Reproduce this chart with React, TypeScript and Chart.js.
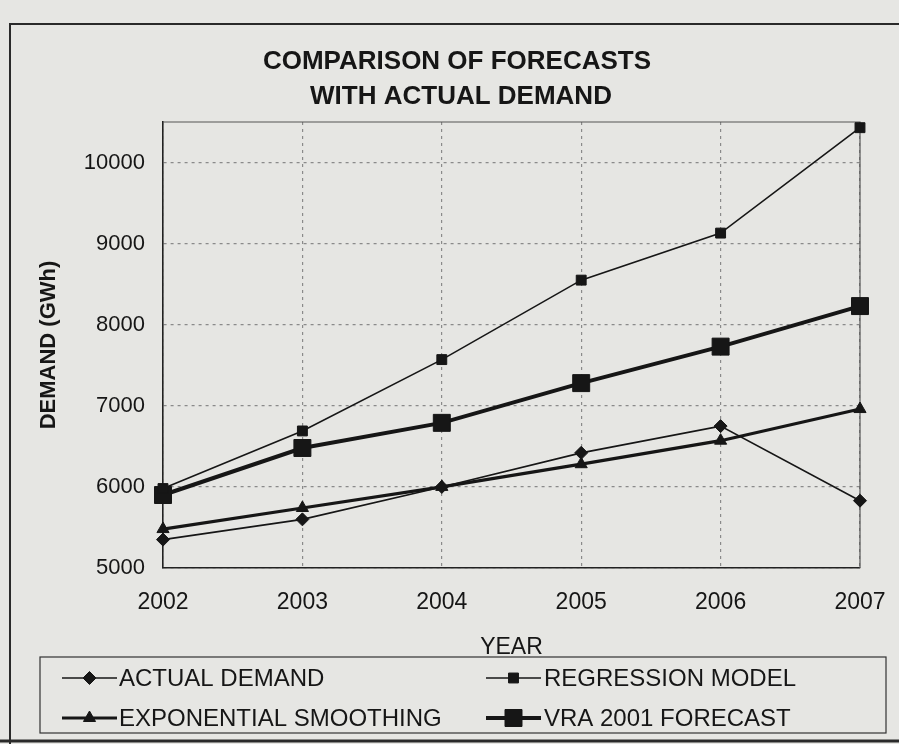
import { useEffect, useRef } from "react";
import { Chart, registerables } from "chart.js";
import { drawPoint } from "chart.js/helpers";

Chart.register(...registerables);

const years = ["2002", "2003", "2004", "2005", "2006", "2007"];
const actualDemand = [5350, 5600, 6000, 6420, 6750, 5830];
const regressionModel = [5980, 6690, 7570, 8550, 9130, 10430];
const exponentialSmoothing = [5480, 5740, 6000, 6280, 6570, 6960];
const vraForecast = [5900, 6480, 6790, 7280, 7730, 8230];
const seriesNames = [
  "ACTUAL DEMAND",
  "REGRESSION MODEL",
  "EXPONENTIAL SMOOTHING",
  "VRA 2001 FORECAST",
];
const titleLines = ["COMPARISON OF FORECASTS", "WITH ACTUAL DEMAND"];
const yTicks = [5000, 6000, 7000, 8000, 9000, 10000];
const yAxisTitle = "DEMAND (GWh)";
const xAxisTitle = "YEAR";

const FONT = "'Liberation Sans', Arial, Helvetica, sans-serif";
const INK = "#161616";
const PAPER = "#e6e6e3";
const GRID = "#8a8a8a";

// Page background, outer frame, plot frame, title and boxed legend.
const decorations = {
  id: "decorations",
  beforeDraw(chart: any) {
    const { ctx, width, height } = chart;
    ctx.save();
    ctx.fillStyle = PAPER;
    ctx.fillRect(0, 0, width, height);
    ctx.strokeStyle = "#2a2a2a";
    ctx.lineWidth = 2;
    ctx.beginPath();
    ctx.moveTo(10, height);
    ctx.lineTo(10, 24);
    ctx.lineTo(width, 24);
    ctx.stroke();
    ctx.lineWidth = 3;
    ctx.beginPath();
    ctx.moveTo(0, 741);
    ctx.lineTo(width, 741);
    ctx.stroke();
    ctx.restore();
  },
  beforeDatasetsDraw(chart: any) {
    const { ctx, chartArea } = chart;
    ctx.save();
    ctx.strokeStyle = "#555";
    ctx.lineWidth = 1.2;
    ctx.beginPath();
    ctx.moveTo(chartArea.left, chartArea.top);
    ctx.lineTo(chartArea.right, chartArea.top);
    ctx.lineTo(chartArea.right, chartArea.bottom);
    ctx.stroke();
    ctx.restore();
  },
  afterDraw(chart: any) {
    const { ctx } = chart;
    ctx.save();
    // title
    ctx.fillStyle = INK;
    ctx.textAlign = "center";
    ctx.textBaseline = "middle";
    ctx.font = `bold 26px ${FONT}`;
    ctx.fillText(titleLines[0], 457, 62);
    ctx.fillText(titleLines[1], 461, 97);

    // legend box
    ctx.strokeStyle = "#333";
    ctx.lineWidth = 1.2;
    ctx.strokeRect(40, 657, 846, 76);

    const colLine = [62, 486];
    const colText = [119, 544];
    const rowY = [678, 718];
    ctx.font = `24px ${FONT}`;
    ctx.textAlign = "left";
    chart.data.datasets.forEach((ds: any, i: number) => {
      const col = i % 2;
      const row = Math.floor(i / 2);
      const x0 = colLine[col];
      const x1 = x0 + 55;
      const y = rowY[row];
      ctx.strokeStyle = ds.borderColor;
      ctx.lineWidth = ds.borderWidth;
      ctx.beginPath();
      ctx.moveTo(x0, y);
      ctx.lineTo(x1, y);
      ctx.stroke();
      ctx.fillStyle = ds.pointBackgroundColor;
      ctx.strokeStyle = ds.pointBorderColor;
      ctx.lineWidth = 1;
      drawPoint(
        ctx,
        { pointStyle: ds.pointStyle, radius: ds.pointRadius, rotation: 0, borderWidth: 1 },
        (x0 + x1) / 2,
        y
      );
      ctx.fillStyle = INK;
      ctx.fillText(ds.label, colText[col], y + 1);
    });
    ctx.restore();
  },
};

function makeSeries(label: string, data: number[], width: number, style: string, radius: number) {
  return {
    label,
    data,
    borderColor: INK,
    borderWidth: width,
    pointStyle: style,
    pointRadius: radius,
    pointBackgroundColor: INK,
    pointBorderColor: INK,
    pointBorderWidth: 1,
    tension: 0,
    fill: false,
  };
}

export default function App() {
  const canvasRef = useRef<HTMLCanvasElement | null>(null);

  useEffect(() => {
    const canvas = canvasRef.current;
    if (!canvas) return;
    const chart = new Chart(canvas, {
      type: "line",
      data: {
        labels: years,
        datasets: [
          makeSeries(seriesNames[0], actualDemand, 1.6, "rectRot", 6.5),
          makeSeries(seriesNames[1], regressionModel, 1.6, "rect", 7),
          makeSeries(seriesNames[2], exponentialSmoothing, 3.2, "triangle", 7),
          makeSeries(seriesNames[3], vraForecast, 4, "rect", 12),
        ] as any,
      },
      options: {
        animation: false,
        responsive: false,
        devicePixelRatio: 1,
        layout: { padding: { left: 8, top: 122, right: 39, bottom: 76 } },
        plugins: {
          legend: { display: false },
          title: { display: false },
          tooltip: { enabled: false },
        },
        scales: {
          x: {
            type: "category",
            offset: false,
            afterFit(scale: any) {
              scale.height = 100;
              scale.paddingLeft = 0;
              scale.paddingRight = 0;
            },
            grid: {
              color: GRID,
              lineWidth: 1.2,
              drawTicks: false,
            },
            border: { display: true, color: "#222", width: 1.6, dash: [3, 4] },
            ticks: {
              color: INK,
              font: { family: FONT, size: 23 },
              padding: 21,
              maxRotation: 0,
            },
            title: {
              display: true,
              text: xAxisTitle,
              color: INK,
              font: { family: FONT, size: 23 },
              padding: { top: 0, bottom: 7 },
            },
          },
          y: {
            type: "linear",
            min: 5000,
            max: 10500,
            afterFit(scale: any) {
              scale.width = 155;
              scale.paddingTop = 0;
              scale.paddingBottom = 0;
            },
            afterBuildTicks(scale: any) {
              scale.ticks = yTicks.map((v) => ({ value: v }));
            },
            grid: {
              color: GRID,
              lineWidth: 1.2,
              drawTicks: false,
            },
            border: { display: true, color: "#222", width: 1.6, dash: [3, 4] },
            ticks: {
              color: INK,
              font: { family: FONT, size: 22 },
              padding: 18,
              callback: (v: any) => String(v),
            },
            title: {
              display: true,
              text: yAxisTitle,
              color: INK,
              font: { family: FONT, size: 22, weight: "bold" },
              padding: { top: 28, bottom: 0 },
            },
          },
        },
      } as any,
      plugins: [decorations],
    });
    return () => chart.destroy();
  }, []);

  return (
    <div style={{ position: "fixed", left: 0, top: 0, width: 899, height: 744, background: PAPER }}>
      <canvas ref={canvasRef} width={899} height={744} style={{ display: "block" }} />
    </div>
  );
}
